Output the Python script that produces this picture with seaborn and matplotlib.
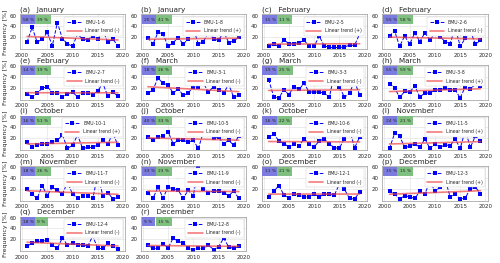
import numpy as np
import matplotlib
matplotlib.use("Agg")
import matplotlib.pyplot as plt
import seaborn as sns

years = list(range(2001, 2020))

letters = list("abcdefghijklmnopqr")
months = ["January", "January", "February", "February", "February", "March",
          "March", "March", "October", "October", "October", "November",
          "November", "November", "December", "December", "December", "December"]
bmus = ["BMU-1-6", "BMU-1-8", "BMU-2-5", "BMU-2-6", "BMU-2-7", "BMU-3-1",
        "BMU-3-3", "BMU-3-8", "BMU-10-1", "BMU-10-5", "BMU-10-6", "BMU-11-5",
        "BMU-11-7", "BMU-11-9", "BMU-12-1", "BMU-12-3", "BMU-12-4", "BMU-12-8"]
trend_sign = ["-", "+", "+", "-", "-", "-", "-", "+", "+", "-", "-", "+",
              "-", "-", "-", "+", "-", "-"]
pct_blue = [58, 20, 15, 55, 14, 18, 19, 55, 16, 40, 16, 24, 18, 33, 11, 15, 18, 9]
pct_green = [39, 41, 11, 58, 19, 26, 25, 59, 51, 33, 22, 21, 26, 23, 21, 15, 9, 15]

freq = [
    [11, 38, 11, 16, 29, 4, 47, 17, 8, 3, 26, 16, 15, 23, 17, 32, 11, 16, 4],
    [19, 7, 29, 26, 3, 10, 19, 7, 17, 36, 7, 12, 29, 17, 14, 30, 10, 13, 20],
    [4, 7, 3, 15, 8, 8, 10, 14, 4, 3, 22, 4, 1, 1, 1, 2, 5, 5, 26],
    [22, 32, 3, 22, 7, 28, 12, 28, 14, 28, 21, 12, 8, 38, 3, 18, 32, 7, 14],
    [9, 3, 10, 19, 22, 11, 11, 3, 8, 12, 3, 11, 11, 7, 14, 28, 4, 12, 4],
    [10, 16, 38, 28, 25, 10, 18, 6, 10, 22, 22, 28, 12, 22, 16, 10, 26, 2, 7],
    [35, 3, 1, 16, 7, 22, 17, 28, 12, 12, 12, 10, 2, 46, 22, 2, 10, 32, 6],
    [27, 20, 2, 13, 12, 23, 3, 10, 10, 16, 16, 19, 16, 16, 1, 22, 17, 27, 23],
    [13, 3, 7, 10, 10, 13, 16, 26, 1, 7, 26, 1, 3, 3, 8, 16, 10, 29, 7],
    [22, 17, 22, 25, 32, 10, 16, 16, 13, 16, 1, 32, 29, 20, 22, 10, 16, 7, 25],
    [22, 28, 15, 10, 4, 10, 6, 19, 10, 4, 15, 19, 10, 2, 2, 19, 37, 2, 22],
    [1, 29, 24, 3, 5, 10, 3, 19, 1, 10, 3, 8, 6, 19, 1, 35, 3, 24, 15],
    [20, 10, 2, 26, 7, 23, 17, 10, 32, 10, 3, 7, 7, 2, 46, 7, 13, 1, 4],
    [13, 2, 23, 3, 23, 20, 17, 3, 17, 7, 59, 20, 13, 16, 16, 13, 7, 16, 2],
    [5, 15, 26, 9, 2, 10, 8, 5, 5, 10, 5, 10, 10, 8, 29, 19, 2, 1, 14],
    [15, 10, 1, 7, 5, 2, 15, 10, 34, 15, 23, 38, 5, 10, 1, 3, 20, 23, 11],
    [7, 13, 16, 16, 19, 9, 3, 23, 9, 13, 10, 10, 7, 26, 3, 3, 13, 7, 2],
    [9, 3, 3, 12, 4, 22, 16, 13, 3, 1, 3, 3, 9, 1, 6, 22, 6, 3, 7],
]

sns.set_style("whitegrid", {"grid.color": "#dddddd", "axes.edgecolor": "#999999"})
plt.rcParams["font.family"] = ["DejaVu Sans"]

fig, axes = plt.subplots(5, 4, figsize=(5.0, 2.63), dpi=100)
fig.subplots_adjust(left=0.04, right=0.975, top=0.945, bottom=0.045,
                    wspace=0.15, hspace=0.46)

for i, ax in enumerate(axes.flat):
    if i >= len(freq):
        ax.remove()
        continue
    sns.lineplot(x=years, y=freq[i], ax=ax, color="blue", marker="s",
                 markersize=2.6, markeredgewidth=0, linestyle="--",
                 linewidth=0.7)
    data_line = ax.lines[-1]
    sns.regplot(x=years, y=freq[i], ax=ax, scatter=False, ci=None,
                color="#ee4444", line_kws={"lw": 1.2, "alpha": 0.7})
    trend_line = ax.lines[-1]
    ax.set_xlim(1999.6, 2020.4)
    ax.set_ylim(-2, 62)
    ax.set_xticks([2000, 2005, 2010, 2015, 2020])
    ax.set_yticks([20, 40, 60])
    ax.tick_params(labelsize=4, length=1.5, pad=1, width=0.4)
    ax.grid(linewidth=0.4)
    for s in ax.spines.values():
        s.set_linewidth(0.5)
    ax.set_title(f"({letters[i]})   {months[i]}", loc="left", fontsize=5.2, pad=2)
    ax.set_xlabel("")
    if i % 4 == 0:
        ax.set_ylabel("Frequency [%]", fontsize=4.5, labelpad=1)
    else:
        ax.set_ylabel("")
    ax.text(0.03, 0.85, f"{pct_blue[i]} %", transform=ax.transAxes, fontsize=3.2,
            va="center", ha="left",
            bbox=dict(boxstyle="square,pad=0.55", fc="#7b7be0", ec="none"))
    ax.text(0.165, 0.85, f"{pct_green[i]} %", transform=ax.transAxes, fontsize=3.2,
            va="center", ha="left",
            bbox=dict(boxstyle="square,pad=0.55", fc="#7fbf7f", ec="none"))
    leg = ax.legend([data_line, trend_line],
                    [bmus[i], f"Linear trend ({trend_sign[i]})"],
                    loc="upper right", fontsize=3.3, frameon=True, framealpha=1,
                    borderpad=0.6, handlelength=3.2, labelspacing=0.8,
                    handletextpad=0.8, edgecolor="#cccccc")
    leg.get_frame().set_linewidth(0.3)

fig.savefig("out.png", dpi=100)
